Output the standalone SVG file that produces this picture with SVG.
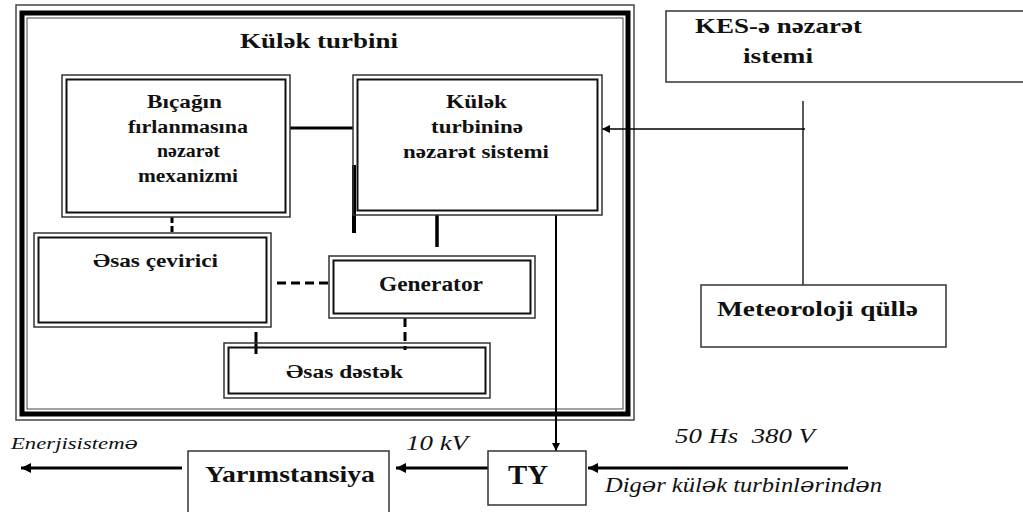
<svg xmlns="http://www.w3.org/2000/svg" width="1023" height="512" viewBox="0 0 1023 512">
<style>
.bo{fill:none;stroke:#333;stroke-width:1.5}
.bi{fill:none;stroke:#111;stroke-width:2}
.sb{fill:#fff;stroke:#333;stroke-width:1.5}
text{font-family:'Liberation Serif','DejaVu Serif',serif}
.t{font-weight:bold;fill:#111}
.it{font-style:italic;fill:#111;white-space:pre}
.sc{font-family:'DejaVu Serif',serif}
.ln{stroke:#000;fill:none}
</style>
<defs>
<marker id="ah" viewBox="0 0 10 10" refX="10" refY="5" markerWidth="10" markerHeight="8" markerUnits="userSpaceOnUse" orient="auto">
<path d="M0,0 L10,5 L0,10 z" fill="#000"/>
</marker>
<marker id="ahs" viewBox="0 0 10 10" refX="10" refY="5" markerWidth="12" markerHeight="10" markerUnits="userSpaceOnUse" orient="auto">
<path d="M0,0 L10,5 L0,10 z" fill="#000"/>
</marker>
</defs>
<rect width="1023" height="512" fill="#fff"/>

<g id="turbine-frame">
<rect x="16" y="5" width="618" height="415" fill="none" stroke="#444" stroke-width="1.5"/>
<rect x="22" y="13" width="606" height="401" fill="none" stroke="#000" stroke-width="5"/>
<rect x="27" y="18" width="596" height="391" fill="none" stroke="#444" stroke-width="1"/>
<text class="t" x="240" y="48" font-size="22" textLength="158" lengthAdjust="spacingAndGlyphs">Külək turbini</text>
</g>

<g id="connectors">
<line class="ln" x1="290" y1="128" x2="353" y2="128" stroke-width="3"/>
<line class="ln" x1="354" y1="165" x2="354" y2="233" stroke-width="4"/>
<line class="ln" x1="437" y1="215" x2="437" y2="247" stroke-width="3.5"/>
<line class="ln" x1="172" y1="217" x2="172" y2="233" stroke-width="3" stroke-dasharray="6,3"/>
<line class="ln" x1="277" y1="283" x2="330" y2="283" stroke-width="3" stroke-dasharray="9,5"/>
<line class="ln" x1="405" y1="318" x2="405" y2="350" stroke-width="3" stroke-dasharray="9,5"/>
<line class="ln" x1="256" y1="332" x2="256" y2="354" stroke-width="3"/>
<line class="ln" x1="556" y1="215" x2="556" y2="451" stroke-width="2" marker-end="url(#ah)"/>
<line class="ln" x1="803" y1="101" x2="803" y2="285" stroke="#222" stroke-width="1.3"/>
<line class="ln" x1="805" y1="129" x2="602" y2="129" stroke="#333" stroke-width="1.5" marker-end="url(#ah)"/>
<line class="ln" x1="488" y1="468" x2="396" y2="468" stroke-width="3" marker-end="url(#ahs)"/>
<line class="ln" x1="182" y1="468" x2="21" y2="468" stroke-width="3" marker-end="url(#ahs)"/>
<line class="ln" x1="848" y1="468" x2="588" y2="468" stroke-width="3" marker-end="url(#ahs)"/>
</g>

<g id="bicagin">
<rect class="bo" x="62" y="75" width="228" height="142"/>
<rect class="bi" x="66.5" y="79.5" width="219" height="133"/>
<text class="t" x="147" y="108" font-size="18" textLength="75" lengthAdjust="spacingAndGlyphs">Bıçağın</text>
<text class="t" x="128" y="133" font-size="18" textLength="120" lengthAdjust="spacingAndGlyphs">fırlanmasına</text>
<text class="t" x="157" y="157" font-size="18" textLength="63" lengthAdjust="spacingAndGlyphs">nəzarət</text>
<text class="t" x="138" y="182" font-size="18" textLength="100" lengthAdjust="spacingAndGlyphs">mexanizmi</text>
</g>

<g id="kulek-nezaret">
<rect class="bo" x="353" y="75" width="249" height="140"/>
<rect class="bi" x="357.5" y="79.5" width="240" height="131"/>
<text class="t" x="446" y="108" font-size="18" textLength="61" lengthAdjust="spacingAndGlyphs">Külək</text>
<text class="t" x="431" y="133" font-size="18" textLength="92" lengthAdjust="spacingAndGlyphs">turbininə</text>
<text class="t" x="403" y="158" font-size="18" textLength="146" lengthAdjust="spacingAndGlyphs">nəzarət sistemi</text>
</g>

<g id="esas-cevirici">
<rect class="bo" x="34" y="233" width="237" height="94"/>
<rect class="bi" x="38.5" y="237.5" width="228" height="85"/>
<text class="t" x="93" y="267" font-size="18" textLength="125" lengthAdjust="spacingAndGlyphs">Əsas çevirici</text>
</g>

<g id="generator">
<rect class="bo" x="329" y="256" width="206" height="62"/>
<rect class="bi" x="333.5" y="260.5" width="197" height="53"/>
<text class="t" x="379" y="291" font-size="20" textLength="104" lengthAdjust="spacingAndGlyphs">Generator</text>
</g>

<g id="esas-destek">
<rect class="bo" x="224" y="343" width="266" height="55"/>
<rect class="bi" x="228.5" y="347.5" width="257" height="46"/>
<text class="t" x="286" y="378" font-size="18" textLength="117" lengthAdjust="spacingAndGlyphs">Əsas dəstək</text>
</g>

<g id="kes">
<rect class="sb" x="666" y="11" width="360" height="71"/>
<text class="t" x="695" y="33" font-size="21" textLength="167" lengthAdjust="spacingAndGlyphs">KES-ə nəzarət</text>
<text class="t" x="743" y="63" font-size="21" textLength="70" lengthAdjust="spacingAndGlyphs">istemi</text>
</g>

<g id="meteoroloji">
<rect class="sb" x="701" y="285" width="245" height="62"/>
<text class="t" x="717" y="316" font-size="21" textLength="201" lengthAdjust="spacingAndGlyphs">Meteoroloji qüllə</text>
</g>

<g id="yarimstansiya">
<rect class="sb" x="188" y="451" width="201" height="70"/>
<text class="t" x="205" y="482" font-size="23" textLength="170" lengthAdjust="spacingAndGlyphs">Yarımstansiya</text>
</g>

<g id="ty">
<rect class="sb" x="488" y="451" width="98" height="54"/>
<text class="t" x="508" y="484" font-size="27" textLength="40" lengthAdjust="spacingAndGlyphs">TY</text>
</g>

<g id="labels">
<text class="it" x="11" y="449" font-size="17" textLength="127" lengthAdjust="spacingAndGlyphs">Enerjisistem<tspan class="sc">ə</tspan></text>
<text class="it" x="406" y="450" font-size="22" textLength="62" lengthAdjust="spacingAndGlyphs">10 kV</text>
<text class="it" x="675" y="443" font-size="21" textLength="140" lengthAdjust="spacingAndGlyphs">50 Hs  380 V</text>
<text class="it" x="605" y="492" font-size="21" textLength="277" lengthAdjust="spacingAndGlyphs">Dig<tspan class="sc">ə</tspan>r kül<tspan class="sc">ə</tspan>k turbinl<tspan class="sc">ə</tspan>rind<tspan class="sc">ə</tspan>n</text>
</g>
</svg>
